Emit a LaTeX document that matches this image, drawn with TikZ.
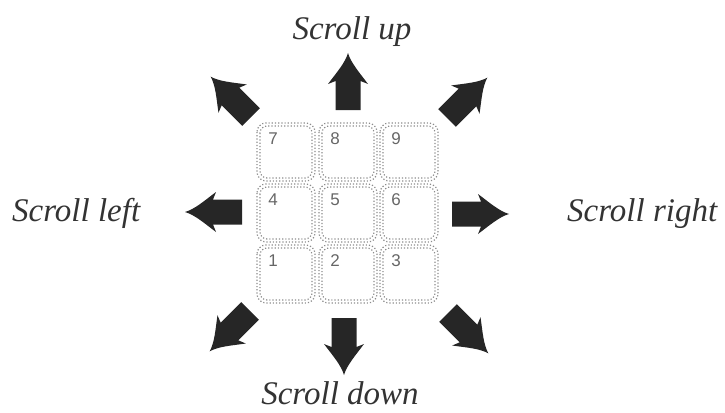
\documentclass[tikz,border=0pt]{standalone}
\usepackage{fontspec}
\setmainfont{Liberation Serif}
\newfontfamily\keyfont{Liberation Sans}
\begin{document}
\begin{tikzpicture}[x=1pt,y=-1pt,
  lbl/.style={font=\itshape\fontsize{33}{36}\selectfont, text=black!80, inner sep=0pt},
  keyline/.style={draw=black!45, dotted, line width=1.2pt, rounded corners=9pt},
  keynum/.style={font=\keyfont\fontsize{17}{19}\selectfont, text=black!60, inner sep=0pt},
  arrowfill/.style={fill=black!85, draw=none}]
\useasboundingbox (0,0) rectangle (725,412);
% block arrow pic: base at origin, pointing along +x
\tikzset{blockarrow/.pic={
  \path[arrowfill] (0,-12.5) -- (29,-12.5) -- (26,-20)
     .. controls (38,-11) and (47,-3) .. (57,0)
     .. controls (47,3) and (38,11) .. (26,20)
     -- (29,12.5) -- (0,12.5) -- cycle;
}}
% keys
\foreach \n/\cx/\cy in {7/286/152, 8/348/152, 9/409/152,
                         4/286/213, 5/348/213, 6/409/213,
                         1/286/274, 2/348/274, 3/409/274}{
  \draw[keyline] (\cx-29,\cy-29) rectangle (\cx+29,\cy+29);
  \draw[keyline, rounded corners=7pt] (\cx-26,\cy-26) rectangle (\cx+26,\cy+26);
  \node[keynum] (k\n) at (\cx-13,\cy-13) {\n};
}
% arrows
\pic[rotate=90]  (aup) at (348,110) {blockarrow};
\pic[rotate=270] (adown) at (344,318) {blockarrow};
\pic[rotate=180] (aleft) at (242,212) {blockarrow};
\pic[rotate=0]   (aright) at (452,214) {blockarrow};
\pic[rotate=135] (aul) at (251,117) {blockarrow};
\pic[rotate=45]  (aur) at (447,118) {blockarrow};
\pic[rotate=225] (adl) at (250,311) {blockarrow};
\pic[rotate=315] (adr) at (448,313) {blockarrow};
% labels
\node[lbl, anchor=base] (tup) at (352,40) {Scroll up};
\node[lbl, anchor=base west] (tleft) at (12,221) {Scroll left};
\node[lbl, anchor=base west] (tright) at (567,221) {Scroll right};
\node[lbl, anchor=base] (tdown) at (340,404) {Scroll down};
\end{tikzpicture}
\end{document}
